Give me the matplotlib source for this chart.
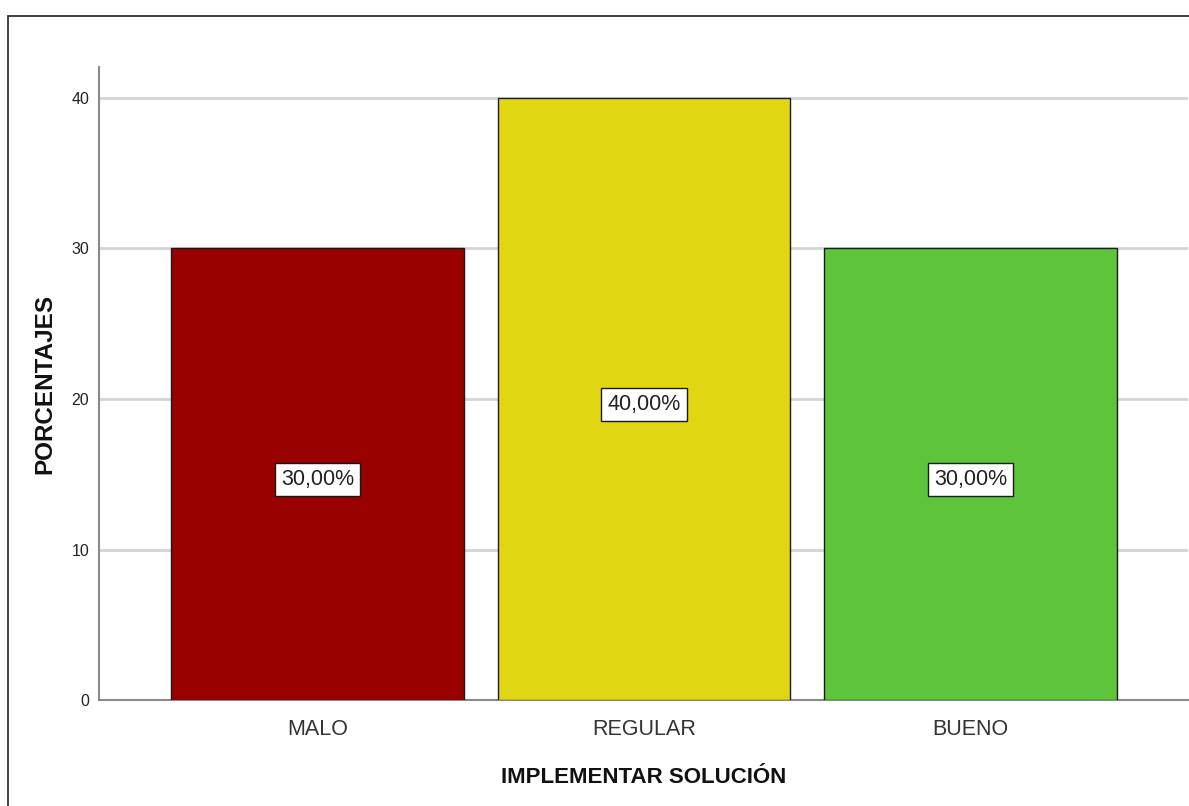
import matplotlib.pyplot as plt
from matplotlib.patches import Rectangle

plt.rcParams['font.family'] = ['Liberation Sans', 'DejaVu Sans']

# Data
categorias = ['MALO', 'REGULAR', 'BUENO']
porcentajes = [30.0, 40.0, 30.0]
etiquetas = ['30,00%', '40,00%', '30,00%']
colores = ['#990000', '#e1d612', '#5ec43b']
y_ticks = [0, 10, 20, 30, 40]

fig = plt.figure(figsize=(11.89, 8.06), dpi=100)
ax = fig.add_axes([0.0833, 0.1315, 0.9159, 0.7854])

# Outer frame around the chart area
fig.patches.append(Rectangle((8 / 1189, -0.1), 1.2, 1 - 16 / 806 + 0.1,
                             transform=fig.transFigure, fill=False,
                             edgecolor='#333333', linewidth=1.3, zorder=0))

x = list(range(len(categorias)))
ax.bar(x, porcentajes, width=0.896, color=colores, edgecolor='#1a1a1a',
       linewidth=1.0, zorder=3)

# Value labels in white boxes at mid-height
for xi, val, txt in zip(x, porcentajes, etiquetas):
    ax.annotate(txt, (xi, val / 2), xytext=(0, -4), textcoords='offset points',
                ha='center', va='center', fontsize=15.5,
                color='#222222', zorder=4,
                bbox=dict(boxstyle='square,pad=0.28', facecolor='white',
                          edgecolor='#1a1a1a', linewidth=1.0))

ax.set_xlim(-0.668, 2.665)
ax.set_ylim(0, 42.06)
ax.set_xticks(x)
ax.set_xticklabels(categorias, fontsize=15.5, color='#333333')
ax.set_yticks(y_ticks)
ax.set_yticklabels([str(t) for t in y_ticks], fontsize=11.5, color='#222222')
ax.tick_params(axis='both', length=0)
ax.tick_params(axis='x', pad=14)
ax.tick_params(axis='y', pad=7)

ax.yaxis.grid(True, color='#d4d4d4', linewidth=2, zorder=0)
ax.set_axisbelow(True)

for s in ['top', 'right']:
    ax.spines[s].set_visible(False)
for s in ['left', 'bottom']:
    ax.spines[s].set_color('#8a8a8a')
    ax.spines[s].set_linewidth(1.5)

ax.set_xlabel('IMPLEMENTAR SOLUCIÓN', fontsize=16, fontweight='bold',
              color='#111111', labelpad=19)
ax.set_ylabel('PORCENTAJES', fontsize=17.5, fontweight='bold',
              color='#111111', labelpad=11)

fig.savefig('out.png', dpi=100)
